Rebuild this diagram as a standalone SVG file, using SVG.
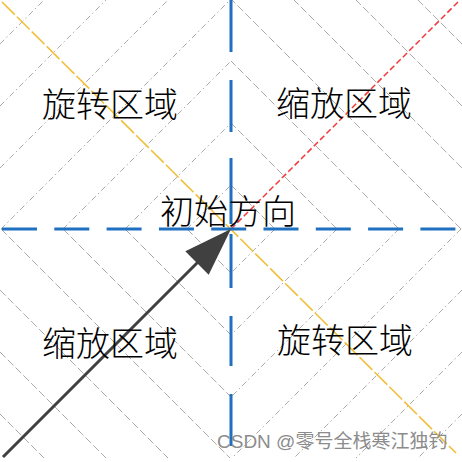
<svg xmlns="http://www.w3.org/2000/svg" width="462" height="462" viewBox="0 0 462 462">
<style>
.bg{fill:#ffffff}
.g1{stroke:#ababab;stroke-width:1;fill:none;stroke-dasharray:6 3 1.5 3}
.g2{stroke:#ababab;stroke-width:1;fill:none;stroke-dasharray:8 3}
.axis{stroke:#1f70c1;stroke-width:3;fill:none}
.orange{stroke:#f2bf3a;stroke-width:1.6;fill:none;stroke-dasharray:18 3}
.red{stroke:#f23a3a;stroke-width:1.5;fill:none;stroke-dasharray:6 3}
.arrow{stroke:#404040;stroke-width:3;fill:none}
.head{fill:#404040}
.lbl{font-family:"Noto Sans CJK SC","Noto Sans",sans-serif;font-size:34px;font-weight:300;fill:#000;text-anchor:middle}
.wm{font-family:"Liberation Sans","Noto Sans CJK SC",sans-serif;font-size:19px;fill:#8c8c8c}
</style>
<rect class="bg" x="0" y="0" width="462" height="462"/>
<g id="connectors">
<g id="grid-tl">
<path class="g1" d="M0 44L44 0M0 106L106 0M0 168L168 0M1 229L230 0M63 229L231 61M125 229L231 123M187 229L231 185"/>
</g>
<g id="grid-bl">
<path class="g2" d="M0 414L44 458M0 352L106 458M0 290L168 458M1 229L230 458M63 229L231 397M125 229L231 335M187 229L231 273"/>
</g>
<g id="grid-tr">
<path class="g2" d="M462 44L418 0M462 106L356 0M462 168L294 0M461 229L232 0M399 229L231 61M337 229L231 123M275 229L231 185"/>
</g>
<g id="grid-br">
<path class="g1" d="M462 414L418 458M462 352L356 458M462 290L294 458M461 229L232 458M399 229L231 397M337 229L231 335M275 229L231 273"/>
</g>
<path class="orange" d="M2 2L456 453"/>
<path class="red" d="M231 229L459 1"/>
<path class="axis" d="M2 229H457" stroke-dasharray="35 17.3"/>
<path class="axis" d="M231 0V52M231 80V132M231 158V224M231 234V288M231 316V366M231 394V446"/>
<g id="arrow">
<path class="arrow" d="M3 457L199 261"/>
<polygon class="head" points="231,229 185.3,251.3 208.7,274.7"/>
</g>
</g>
<g id="label-tl"><text class="lbl" x="110" y="117">旋转区域</text></g>
<g id="label-tr"><text class="lbl" x="344" y="116">缩放区域</text></g>
<g id="label-center"><text class="lbl" x="228" y="224">初始方向</text></g>
<g id="label-bl"><text class="lbl" x="110" y="356">缩放区域</text></g>
<g id="label-br"><text class="lbl" x="345" y="353">旋转区域</text></g>
<g id="watermark"><text class="wm" x="217" y="448">CSDN @零号全栈寒江独钓</text></g>
</svg>
